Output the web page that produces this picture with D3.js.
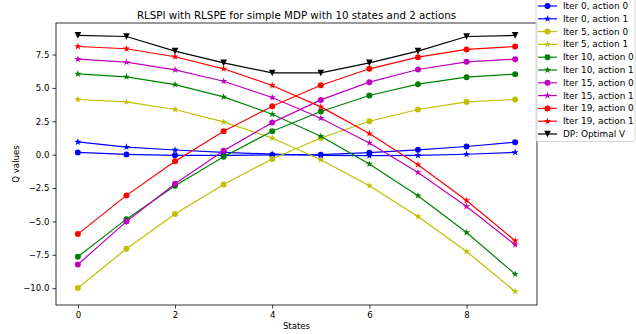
<!DOCTYPE html>
<html>
<head>
<meta charset="utf-8">
<script src="https://cdn.jsdelivr.net/npm/d3@7"></script>
<style>
  body { margin: 0; background: #fff; }
  svg { display: block; font-family: "DejaVu Sans", sans-serif; }
</style>
</head>
<body>
<svg id="chart" width="636" height="334"></svg>
<script>
// estados del MDP
var states = [0, 1, 2, 3, 4, 5, 6, 7, 8, 9];

// valores Q
var iter0a0  = [0.17, 0.02, -0.05, -0.05, -0.02, 0.0, 0.15, 0.36, 0.61, 0.93];
var iter0a1  = [0.95, 0.57, 0.35, 0.17, 0.04, -0.05, -0.07, -0.06, 0.03, 0.17];
var iter5a0  = [-9.98, -7.05, -4.45, -2.23, -0.32, 1.25, 2.5, 3.38, 3.95, 4.13];
var iter5a1  = [4.13, 3.95, 3.38, 2.45, 1.25, -0.38, -2.33, -4.63, -7.25, -10.25];
var iter10a0 = [-7.65, -4.83, -2.33, -0.15, 1.75, 3.23, 4.43, 5.28, 5.8, 6.03];
var iter10a1 = [6.05, 5.83, 5.25, 4.33, 3.03, 1.38, -0.7, -3.08, -5.83, -8.95];
var iter15a0 = [-8.23, -5.0, -2.18, 0.3, 2.4, 4.1, 5.43, 6.38, 6.95, 7.15];
var iter15a1 = [7.15, 6.93, 6.35, 5.5, 4.28, 2.73, 0.88, -1.33, -3.88, -6.75];
var iter19a0 = [-5.95, -3.05, -0.5, 1.75, 3.63, 5.2, 6.43, 7.3, 7.88, 8.1];
var iter19a1 = [8.1, 7.93, 7.33, 6.43, 5.18, 3.58, 1.58, -0.75, -3.43, -6.45];
var dpV      = [8.93, 8.85, 7.75, 6.87, 6.12, 6.12, 6.87, 7.75, 8.85, 8.93];

var xTicks = [0, 2, 4, 6, 8];
var yTicks = [-10, -7.5, -5, -2.5, 0, 2.5, 5, 7.5];

var series = [
  {label: "Iter 0, action 0",  values: iter0a0,  color: "#0000ff", marker: "o"},
  {label: "Iter 0, action 1",  values: iter0a1,  color: "#0000ff", marker: "*"},
  {label: "Iter 5, action 0",  values: iter5a0,  color: "#bfbf00", marker: "o"},
  {label: "Iter 5, action 1",  values: iter5a1,  color: "#bfbf00", marker: "*"},
  {label: "Iter 10, action 0", values: iter10a0, color: "#008000", marker: "o"},
  {label: "Iter 10, action 1", values: iter10a1, color: "#008000", marker: "*"},
  {label: "Iter 15, action 0", values: iter15a0, color: "#bf00bf", marker: "o"},
  {label: "Iter 15, action 1", values: iter15a1, color: "#bf00bf", marker: "*"},
  {label: "Iter 19, action 0", values: iter19a0, color: "#ff0000", marker: "o"},
  {label: "Iter 19, action 1", values: iter19a1, color: "#ff0000", marker: "*"},
  {label: "DP: Optimal V",     values: dpV,      color: "#000000", marker: "v"}
];

var svg = d3.select("#chart");
var mLeft = 56, mRight = 537, mTop = 23, mBottom = 305;

var x = d3.scaleLinear().domain([-0.45, 9.45]).range([mLeft, mRight]);
var y = d3.scaleLinear().domain([-11.26, 9.86]).range([mBottom, mTop]);

function markerPath(m) {
  if (m == "o") return d3.symbol().type(d3.symbolCircle).size(28)();
  if (m == "*") return d3.symbol().type(d3.symbolStar).size(16)();
  var s = 3.3;	// triángulo hacia abajo estilo matplotlib
  return "M0," + s + "L" + (-s) + "," + (-s) + "L" + s + "," + (-s) + "Z";
}

// ejes
var fmt = function(d) { return d3.format(".1f")(d).replace("-", "\u2212"); };
var xAxis = svg.append("g").attr("transform", "translate(0," + mBottom + ")")
  .call(d3.axisBottom(x).tickValues(xTicks).tickSize(3.5).tickPadding(3));
var yAxis = svg.append("g").attr("transform", "translate(" + mLeft + ",0)")
  .call(d3.axisLeft(y).tickValues(yTicks).tickFormat(fmt).tickSize(3.5).tickPadding(3));
[xAxis, yAxis].forEach(function(a) {
  a.select(".domain").remove();
  a.selectAll("text").attr("font-size", 8.6).attr("fill", "#000").attr("font-family", "DejaVu Sans");
  a.selectAll("line").attr("stroke", "#000").attr("stroke-width", 0.8);
});

// líneas y marcadores
var line = d3.line().x(function(d, i) { return x(states[i]); }).y(function(d) { return y(d); });
var plot = svg.append("g");
series.forEach(function(s) {
  plot.append("path").attr("d", line(s.values))
    .attr("fill", "none").attr("stroke", s.color).attr("stroke-width", 1.2);
  plot.selectAll(null).data(s.values).enter().append("path")
    .attr("d", markerPath(s.marker))
    .attr("transform", function(d, i) { return "translate(" + x(states[i]) + "," + y(d) + ")"; })
    .attr("fill", s.color);
});

// marco
svg.append("rect").attr("x", mLeft).attr("y", mTop)
  .attr("width", mRight - mLeft).attr("height", mBottom - mTop)
  .attr("fill", "none").attr("stroke", "#000").attr("stroke-width", 0.8);

// textos
svg.append("text").attr("x", (mLeft + mRight) / 2).attr("y", 18.5)
  .attr("text-anchor", "middle").attr("font-size", 10.3).text("RLSPI with RLSPE for simple MDP with 10 states and 2 actions");
svg.append("text").attr("x", (mLeft + mRight) / 2).attr("y", 329)
  .attr("text-anchor", "middle").attr("font-size", 8.6).text("States");
svg.append("text").attr("transform", "translate(18.5," + ((mTop + mBottom) / 2) + ") rotate(-90)")
  .attr("text-anchor", "middle").attr("font-size", 8.6).text("Q values");

// leyenda
var legend = svg.append("g");
legend.append("rect").attr("x", 536).attr("y", -4).attr("width", 99).attr("height", 145.5)
  .attr("rx", 2).attr("fill", "#fff").attr("fill-opacity", 0.8)
  .attr("stroke", "#cccccc").attr("stroke-width", 0.8);
series.forEach(function(s, i) {
  var yy = 6 + i * 12.8;
  legend.append("line").attr("x1", 538).attr("x2", 557).attr("y1", yy).attr("y2", yy)
    .attr("stroke", s.color).attr("stroke-width", 1.2);
  legend.append("path").attr("d", markerPath(s.marker))
    .attr("transform", "translate(547.5," + yy + ")").attr("fill", s.color);
  legend.append("text").attr("x", 563).attr("y", yy + 3).attr("font-size", 8.9).text(s.label);
});
</script>
</body>
</html>
